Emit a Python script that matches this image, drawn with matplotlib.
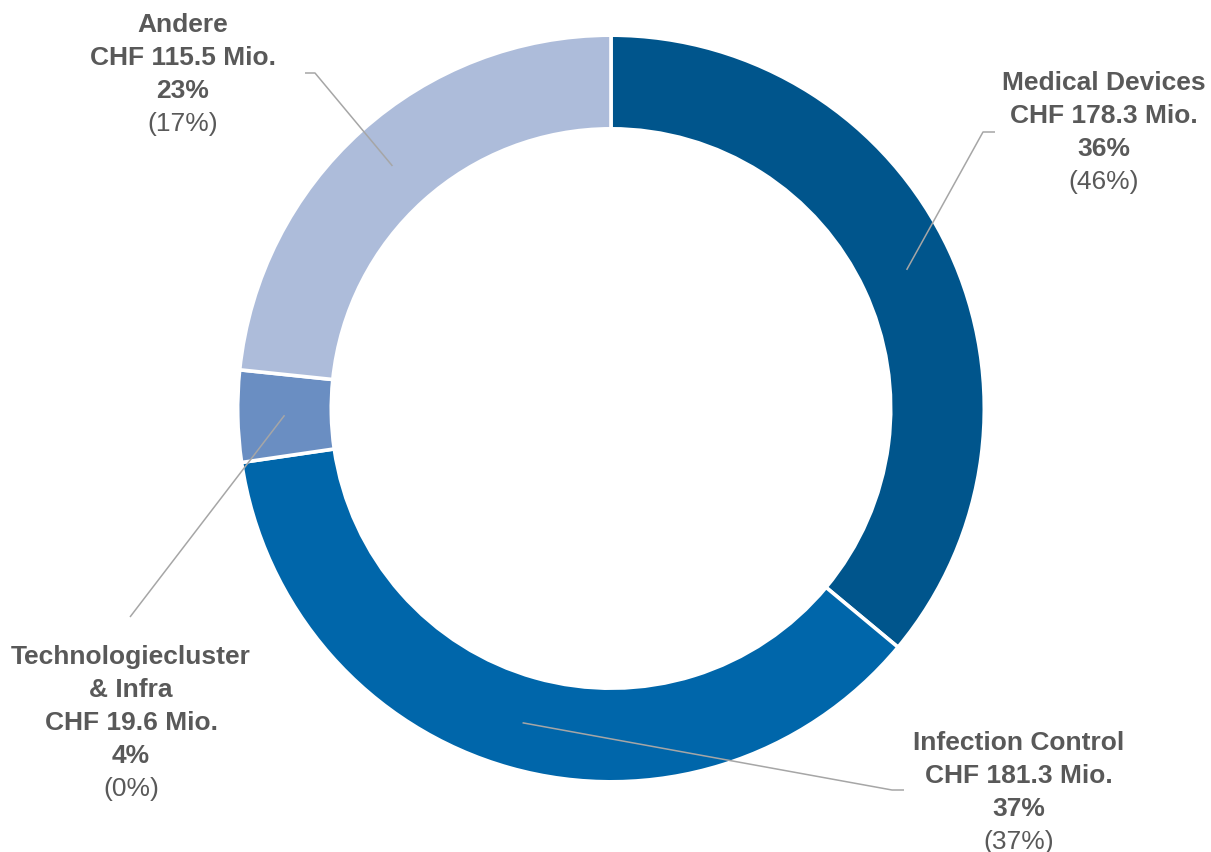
import numpy as np
import matplotlib
matplotlib.use("Agg")
import matplotlib.pyplot as plt

# ---- data ----
categories = ["Medical Devices", "Infection Control", "Technologiecluster\n& Infra", "Andere"]
values = [178.3, 181.3, 19.6, 115.5]          # CHF Mio.
prev_share = [46, 37, 0, 17]                  # previous-year shares (%)
colors = ["#00558C", "#0066AA", "#6A8EC2", "#ADBCDA"]

# label anchor (pixel) positions: first-line centre, and leader elbow / end
label_pos_px = [(1104, 83), (1019, 743), (131, 657), (183, 25)]
leader_elbow_px = [(983, 132), (892, 790), (130, 617), (315, 73)]
leader_end_px = [(995, 132), (904, 790), (130, 617), (305, 73)]

W, H = 1211, 852
CX, CY = 611, 408.5      # centre in pixels (from top)
R_PX = 371.5             # outer radius px
RING_PX = 90             # ring width px
LINE_PX = 33             # line spacing px

def to_data(px, py):
    return (px - CX) / R_PX, (CY - py) / R_PX

fig = plt.figure(figsize=(W / 100, H / 100), dpi=100)
ax = fig.add_axes([0, 0, 1, 1])

lw = 2.6
extra = (lw * 100 / 72 / 2) / R_PX
wedges, _ = ax.pie(values, colors=colors, startangle=90, counterclock=False,
                   radius=1.0 + extra,
                   wedgeprops=dict(width=RING_PX / R_PX + 2 * extra, edgecolor="white", linewidth=lw))
ax.set_xlim(-CX / R_PX, (W - CX) / R_PX)
ax.set_ylim(-(H - CY) / R_PX, CY / R_PX)
ax.set_aspect("equal")
ax.axis("off")

total = sum(values)
text_color = "#595959"
line_color = "#A6A6A6"
font = "Liberation Sans"
fs = 19
mid_r = (1.0 + (1.0 - RING_PX / R_PX)) / 2

for i, (cat, v, p) in enumerate(zip(categories, values, prev_share)):
    w = wedges[i]
    ang = np.deg2rad((w.theta1 + w.theta2) / 2)
    sx, sy = mid_r * np.cos(ang), mid_r * np.sin(ang)
    ex, ey = to_data(*leader_elbow_px[i])
    fx, fy = to_data(*leader_end_px[i])
    ax.plot([sx, ex, fx], [sy, ey, fy], color=line_color, lw=1.1, solid_capstyle="butt", zorder=5)

    share = round(v / total * 100)
    bold_lines = cat.split("\n") + [f"CHF {v:.1f} Mio.", f"{share}%"]
    lx, ly = label_pos_px[i]
    for j, t in enumerate(bold_lines):
        x, y = to_data(lx, ly + j * LINE_PX)
        ax.text(x, y, t, ha="center", va="center", fontsize=fs, fontweight="bold",
                color=text_color, family=font)
    x, y = to_data(lx, ly + len(bold_lines) * LINE_PX)
    ax.text(x, y, f"({p}%)", ha="center", va="center", fontsize=fs,
            color=text_color, family=font)

fig.savefig("out.png", dpi=100)
